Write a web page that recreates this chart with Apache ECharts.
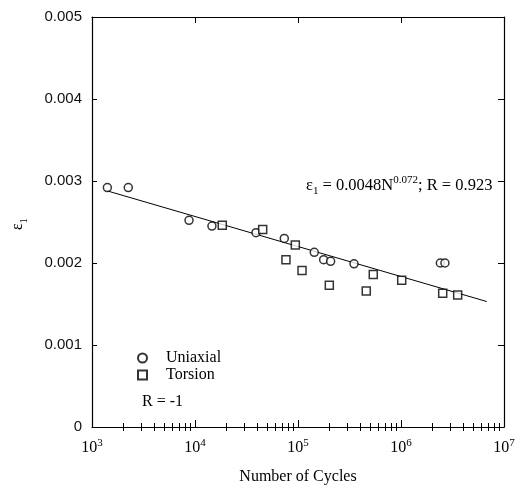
<!DOCTYPE html>
<html>
<head>
<meta charset="utf-8">
<script src="https://cdn.jsdelivr.net/npm/echarts@6/dist/echarts.min.js"></script>
<style>html,body{margin:0;padding:0;background:#fff;}#c{width:519px;height:485px;}</style>
</head>
<body>
<div id="c"></div>
<script>
// Data
const uniaxialN = [1410, 2250, 8750, 14600, 39100, 73600, 143900, 177400, 207400, 349800, 2410000, 2670000];
const uniaxialE = [0.00292, 0.00292, 0.00252, 0.00245, 0.00237, 0.00230, 0.00213, 0.00204, 0.00202, 0.00199, 0.00200, 0.00200];
const torsionN = [18400, 45400, 76400, 94200, 109400, 201400, 460000, 538000, 1016000, 2540000, 3550000];
const torsionE = [0.00246, 0.00241, 0.00204, 0.00222, 0.00191, 0.00173, 0.00166, 0.00186, 0.00179, 0.00163, 0.00161];
const fitN = [1400, 6800000];
const fitE = [0.00288, 0.00153];
const minorTicks = [2e3,3e3,4e3,5e3,6e3,7e3,8e3,9e3,2e4,3e4,4e4,5e4,6e4,7e4,8e4,9e4,2e5,3e5,4e5,5e5,6e5,7e5,8e5,9e5,2e6,3e6,4e6,5e6,6e6,7e6,8e6,9e6];

const zip = (a, b) => a.map((v, i) => [v, b[i]]);
const serif = '"Liberation Serif", "Times New Roman", serif';
const black = '#000';

const chart = echarts.init(document.getElementById('c'), null, {renderer: 'canvas'});

function logAxis(pos, opts) {
  return Object.assign({
    type: 'log', logBase: 10, min: 1000, max: 10000000, position: pos,
    splitLine: {show: false},
    axisLine: {show: false},
    axisLabel: {show: false},
    axisTick: {show: false}
  }, opts);
}

chart.setOption({
  animation: false,
  backgroundColor: '#fff',
  grid: {left: 92, right: 15, top: 17, bottom: 58, containLabel: false, outerBoundsMode: 'none'},
  legend: {
    orient: 'vertical', left: 132, top: 345, itemWidth: 9, itemHeight: 9, itemGap: 1,
    textStyle: {fontFamily: serif, fontSize: 16, color: black, padding: [0, 0, 0, 14]},
    data: [{name: 'Uniaxial', icon: 'circle'}, {name: 'Torsion', icon: 'rect'}]
  },
  xAxis: [
    logAxis('bottom', {
      axisLine: {show: true, onZero: false, lineStyle: {color: black, width: 1.2}},
      axisTick: {show: true, inside: true, length: 7, lineStyle: {color: black}},
      axisLabel: {
        show: true, margin: 11,
        formatter: v => '{b|10}{s|' + Math.round(Math.log10(v)) + '}',
        rich: {
          b: {fontFamily: serif, fontSize: 16, color: black, lineHeight: 18, verticalAlign: 'bottom'},
          s: {fontFamily: serif, fontSize: 11, color: black, lineHeight: 11, verticalAlign: 'top'}
        }
      },
      name: 'Number of Cycles', nameLocation: 'middle', nameGap: 42,
      nameTextStyle: {fontFamily: serif, fontSize: 16, color: black}
    }),
    logAxis('bottom', {
      axisTick: {show: true, inside: true, length: 4, customValues: minorTicks, lineStyle: {color: black}}
    }),
    logAxis('top', {
      axisLine: {show: true, onZero: false, lineStyle: {color: black, width: 1.2}},
      axisTick: {show: true, inside: true, length: 6, lineStyle: {color: black}}
    }),
    logAxis('top', {
      axisTick: {show: true, inside: true, length: 4, customValues: minorTicks, lineStyle: {color: black}}
    })
  ],
  yAxis: [
    {
      type: 'value', min: 0, max: 0.005, interval: 0.001, position: 'left',
      splitLine: {show: false},
      axisLine: {show: true, onZero: false, lineStyle: {color: black, width: 1.2}},
      axisTick: {show: true, inside: true, length: 5, lineStyle: {color: black}},
      axisLabel: {
        margin: 10, fontFamily: '"Liberation Sans", Arial, sans-serif', fontSize: 15, color: '#111',
        formatter: v => v === 0 ? '0' : v.toFixed(3)
      }
    },
    {
      type: 'value', min: 0, max: 0.005, interval: 0.001, position: 'right',
      splitLine: {show: false},
      axisLine: {show: true, onZero: false, lineStyle: {color: black, width: 1.2}},
      axisTick: {show: true, inside: true, length: 6, lineStyle: {color: black}},
      axisLabel: {show: false}
    }
  ],
  graphic: [
    {
      type: 'text', x: 20, y: 224, rotation: Math.PI / 2,
      style: {
        text: '{e|ε}{s|1}', align: 'center', verticalAlign: 'middle',
        rich: {
          e: {fontFamily: serif, fontSize: 16, fill: black, lineHeight: 20, verticalAlign: 'top'},
          s: {fontFamily: serif, fontSize: 11, fill: black, lineHeight: 11, verticalAlign: 'bottom'}
        }
      }
    },
    {
      type: 'text', x: 306, y: 186,
      style: {
        text: '{e|ε}{s|1}{t| = 0.0048N}{p|0.072}{t|; R = 0.923}',
        align: 'left', verticalAlign: 'middle',
        rich: {
          e: {fontFamily: serif, fontSize: 16.5, fill: black, lineHeight: 22, verticalAlign: 'middle'},
          t: {fontFamily: serif, fontSize: 16.5, fill: black, lineHeight: 22, verticalAlign: 'middle'},
          s: {fontFamily: serif, fontSize: 11, fill: black, lineHeight: 11, verticalAlign: 'bottom'},
          p: {fontFamily: serif, fontSize: 11, fill: black, lineHeight: 11, verticalAlign: 'top'}
        }
      }
    },
    {
      type: 'text', x: 142, y: 402,
      style: {text: 'R = -1', fontFamily: serif, fontSize: 16, fill: black, align: 'left', verticalAlign: 'middle'}
    }
  ],
  series: [
    {
      name: 'Fit', type: 'line', xAxisIndex: 0, yAxisIndex: 0, data: zip(fitN, fitE),
      symbol: 'none', lineStyle: {color: black, width: 1}, z: 1
    },
    {
      name: 'Uniaxial', type: 'scatter', xAxisIndex: 0, yAxisIndex: 0, data: zip(uniaxialN, uniaxialE),
      symbol: 'circle', symbolSize: 8,
      itemStyle: {color: '#fff', borderColor: black, borderWidth: 1.5}, z: 3
    },
    {
      name: 'Torsion', type: 'scatter', xAxisIndex: 0, yAxisIndex: 0, data: zip(torsionN, torsionE),
      symbol: 'rect', symbolSize: 8,
      itemStyle: {color: '#fff', borderColor: black, borderWidth: 1.5}, z: 3
    }
  ]
});
</script>
</body>
</html>
